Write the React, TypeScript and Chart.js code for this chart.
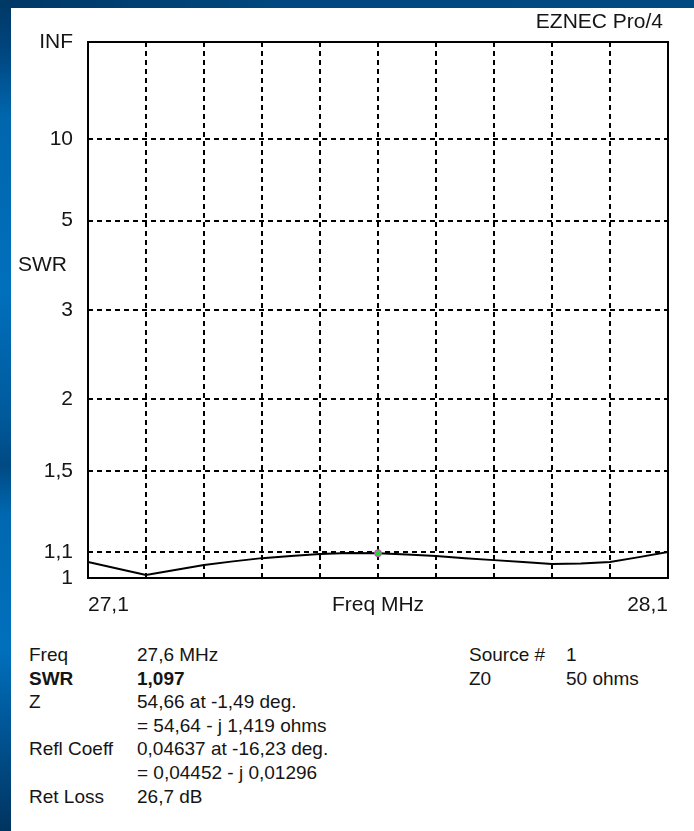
import React, { useEffect, useRef } from "react";
import { Chart, registerables } from "chart.js";

Chart.register(...registerables);

// ---- data ----
const freqMHz = [
  27.1, 27.15, 27.2, 27.25, 27.3, 27.35, 27.4, 27.45, 27.5, 27.55, 27.6,
  27.65, 27.7, 27.75, 27.8, 27.85, 27.9, 27.95, 28.0, 28.05, 28.1,
];
const swrValues = [
  1.062, 1.036, 1.011, 1.03, 1.05, 1.064, 1.077, 1.086, 1.094, 1.098, 1.097,
  1.092, 1.086, 1.077, 1.069, 1.062, 1.054, 1.056, 1.062, 1.081, 1.102,
];
const markerFreq = [27.6];
const markerSwr = [1.097];

const xGridFreqs = [27.1, 27.2, 27.3, 27.4, 27.5, 27.6, 27.7, 27.8, 27.9, 28.0, 28.1];
const xTickLabels = ["27,1", "", "", "", "", "Freq MHz", "", "", "", "", "28,1"];
const swrTicks = [1, 1.1, 1.5, 2, 3, 5, 10, Infinity];
const swrTickLabels = ["1", "1,1", "1,5", "2", "3", "5", "10", "INF"];

const yTitle = "SWR";
const brandText = "EZNEC Pro/4";

const infoLeft = [
  ["Freq", "27,6 MHz", false],
  ["SWR", "1,097", true],
  ["Z", "54,66 at -1,49 deg.", false],
  ["", "= 54,64 - j 1,419 ohms", false],
  ["Refl Coeff", "0,04637 at -16,23 deg.", false],
  ["", "= 0,04452 - j 0,01296", false],
  ["Ret Loss", "26,7 dB", false],
] as const;
const infoRight = [
  ["Source #", "1"],
  ["Z0", "50 ohms"],
] as const;

// SWR axis is linear in reflection coefficient magnitude
const toRho = (s: number) => (s === Infinity ? 1 : (s - 1) / (s + 1));

const FONT = '"Liberation Sans", Arial, sans-serif';
const TEXT = "#151515";

const framePlugin = {
  id: "frameAndLabels",
  afterDraw(chart: any) {
    const { ctx, chartArea: a } = chart;
    ctx.save();
    ctx.strokeStyle = "#000";
    ctx.lineWidth = 2;
    ctx.setLineDash([]);
    ctx.strokeRect(a.left, a.top, a.right - a.left, a.bottom - a.top);
    ctx.fillStyle = TEXT;
    ctx.font = `21px ${FONT}`;
    ctx.textBaseline = "middle";
    ctx.textAlign = "left";
    ctx.fillText(yTitle, 7, 257);
    ctx.textAlign = "right";
    ctx.fillText(brandText, 652, 14);
    ctx.restore();
  },
};

function SwrChart() {
  const ref = useRef<HTMLCanvasElement | null>(null);
  useEffect(() => {
    if (!ref.current) return;
    const chart = new Chart(ref.current, {
      type: "line",
      data: {
        datasets: [
          {
            data: freqMHz.map((f, i) => ({ x: f, y: toRho(swrValues[i]) })),
            borderColor: "#000",
            borderWidth: 2,
            pointRadius: 0,
            tension: 0,
            order: 2,
          },
          {
            data: markerFreq.map((f, i) => ({ x: f, y: toRho(markerSwr[i]) })),
            showLine: false,
            pointRadius: 3.5,
            pointBackgroundColor: "#2fd42f",
            pointBorderColor: "#d040d0",
            pointBorderWidth: 1,
            order: 1,
          },
        ],
      },
      options: {
        animation: false,
        responsive: true,
        maintainAspectRatio: false,
        layout: { padding: { top: 34, right: 26, left: 0, bottom: 0 } },
        plugins: { legend: { display: false }, tooltip: { enabled: false }, title: { display: false } },
        scales: {
          x: {
            type: "linear",
            min: 27.1,
            max: 28.1,
            afterBuildTicks: (s: any) => {
              s.ticks = xGridFreqs.map((v) => ({ value: v }));
            },
            afterFit: (s: any) => {
              s.height = 42;
            },
            ticks: {
              autoSkip: false,
              maxRotation: 0,
              align: "inner",
              padding: 15,
              color: TEXT,
              font: { family: FONT, size: 21 },
              callback: (_v: any, i: number) => xTickLabels[i],
            },
            grid: { color: "#000", lineWidth: 2, drawTicks: false },
            border: { display: false, dash: [5, 4] },
          },
          y: {
            type: "linear",
            min: 0,
            max: 1,
            afterBuildTicks: (s: any) => {
              s.ticks = swrTicks.map((v) => ({ value: toRho(v) }));
            },
            afterFit: (s: any) => {
              s.width = 77;
            },
            ticks: {
              padding: 15,
              color: TEXT,
              font: { family: FONT, size: 21 },
              callback: (_v: any, i: number) => swrTickLabels[i],
            },
            grid: { color: "#000", lineWidth: 2, drawTicks: false },
            border: { display: false, dash: [5, 4] },
          },
        },
      },
      plugins: [framePlugin],
    } as any);
    return () => chart.destroy();
  }, []);
  return (
    <div style={{ position: "relative", width: 683, height: 612 }}>
      <canvas ref={ref} />
    </div>
  );
}

export default function App() {
  const rowH = 23.6;
  const cell: React.CSSProperties = {
    position: "absolute",
    whiteSpace: "nowrap",
    lineHeight: `${rowH}px`,
    height: rowH,
  };
  return (
    <div
      style={{
        position: "fixed",
        inset: 0,
        overflow: "hidden",
        background:
          "linear-gradient(to bottom, #003866 0%, #00457e 6%, #0066ad 14%, #0070bd 35%, #005a9c 50%, #004a84 56%, #0068b0 62%, #0070bd 78%, #004f8c 90%, #003460 100%)",
      }}
    >
      <div
        style={{
          position: "absolute",
          left: 0,
          top: 0,
          right: 0,
          height: 8,
          background: "linear-gradient(to right, #003866, #00487f 40%, #004a82)",
        }}
      />
      <div
        style={{
          position: "absolute",
          left: 11,
          top: 8,
          right: 0,
          bottom: 0,
          background: "#fff",
          fontFamily: FONT,
          fontSize: 19,
          color: TEXT,
        }}
      >
        <SwrChart />
        {infoLeft.map(([label, value, bold], i) => (
          <React.Fragment key={"l" + i}>
            <div style={{ ...cell, left: 18, top: 635 + i * rowH, fontWeight: bold ? 700 : 400 }}>{label}</div>
            <div style={{ ...cell, left: 126, top: 635 + i * rowH, fontWeight: bold ? 700 : 400 }}>{value}</div>
          </React.Fragment>
        ))}
        {infoRight.map(([label, value], i) => (
          <React.Fragment key={"r" + i}>
            <div style={{ ...cell, left: 458, top: 635 + i * rowH }}>{label}</div>
            <div style={{ ...cell, left: 555, top: 635 + i * rowH }}>{value}</div>
          </React.Fragment>
        ))}
      </div>
    </div>
  );
}
